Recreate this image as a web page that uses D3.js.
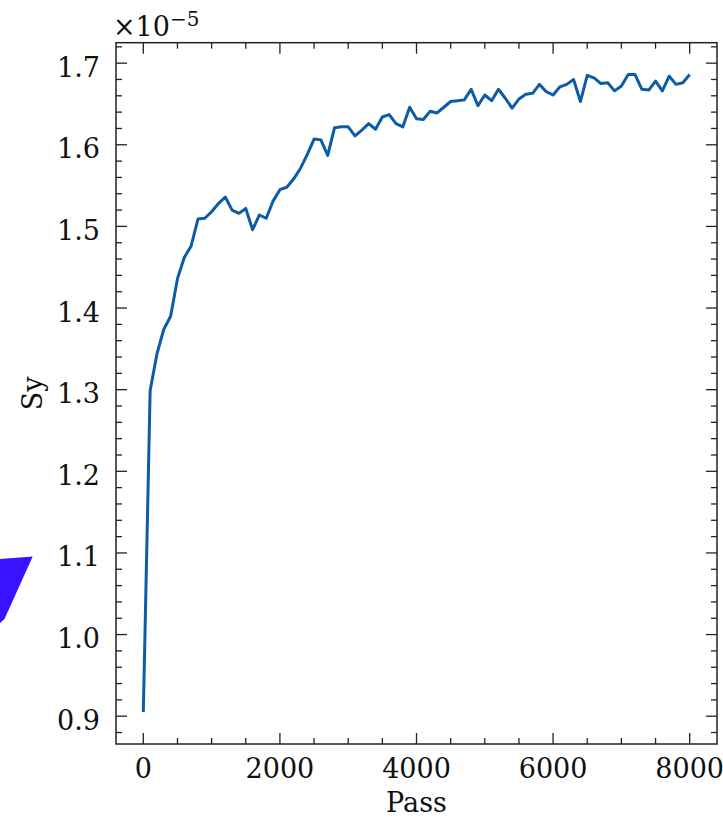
<!DOCTYPE html>
<html>
<head>
<meta charset="utf-8">
<script src="https://cdn.jsdelivr.net/npm/d3@7.9.0/dist/d3.min.js"></script>
<style>
  html, body { margin: 0; padding: 0; background: #fff; }
  svg { display: block; }
  text { font-family: "DejaVu Serif", serif; fill: #111; }
</style>
</head>
<body>
<div id="chart"></div>
<script>
// Pass number (x) and Sy in units of 1e-5 (y)
const passes = [
  0, 100, 200, 300, 400, 500, 600, 700, 800, 900,
  1000, 1100, 1200, 1300, 1400, 1500, 1600, 1700, 1800, 1900,
  2000, 2100, 2200, 2300, 2400, 2500, 2600, 2700, 2800, 2900,
  3000, 3100, 3200, 3300, 3400, 3500, 3600, 3700, 3800, 3900,
  4000, 4100, 4200, 4300, 4400, 4500, 4600, 4700, 4800, 4900,
  5000, 5100, 5200, 5300, 5400, 5500, 5600, 5700, 5800, 5900,
  6000, 6100, 6200, 6300, 6400, 6500, 6600, 6700, 6800, 6900,
  7000, 7100, 7200, 7300, 7400, 7500, 7600, 7700, 7800, 7900,
  8000
];
const syValues = [
  0.905, 1.299, 1.344, 1.374, 1.390, 1.436, 1.462, 1.476, 1.509, 1.510,
  1.518, 1.528, 1.536, 1.520, 1.516, 1.522, 1.496, 1.514, 1.510, 1.531,
  1.545, 1.548, 1.558, 1.571, 1.588, 1.607, 1.606, 1.587, 1.621, 1.622,
  1.622, 1.611, 1.618, 1.626, 1.619, 1.634, 1.637, 1.626, 1.622, 1.646,
  1.632, 1.631, 1.641, 1.639, 1.646, 1.653, 1.654, 1.655, 1.668, 1.648,
  1.661, 1.654, 1.668, 1.657, 1.645, 1.656, 1.662, 1.663, 1.674, 1.665,
  1.661, 1.671, 1.674, 1.680, 1.653, 1.685, 1.682, 1.675, 1.676, 1.666,
  1.672, 1.686, 1.686, 1.668, 1.667, 1.678, 1.666, 1.684, 1.674, 1.676,
  1.686
];
const xMajorTicks = [0, 2000, 4000, 6000, 8000];
const yMajorTicks = [0.9, 1.0, 1.1, 1.2, 1.3, 1.4, 1.5, 1.6, 1.7];
const xLabel = "Pass";
const yLabel = "Sy";

// stray blue shape at the left edge of the picture
const blueShape = [[0, 559], [32.7, 556.5], [4.5, 619], [0, 623]];

const W = 723, H = 824;
const margin = { top: 42.7, right: 6, bottom: 80, left: 116 };
const lineColor = "#0C5DA5";
const fontSize = 27;

const svg = d3.select("#chart").append("svg")
  .attr("width", W)
  .attr("height", H);

const data = passes.map((p, i) => ({ pass: p, sy: syValues[i] }));

// matplotlib style 5% padding
const xExt = d3.extent(data, d => d.pass);
const yExt = d3.extent(data, d => d.sy);
const xPad = (xExt[1] - xExt[0]) * 0.05;
const yPad = (yExt[1] - yExt[0]) * 0.05;

const x = d3.scaleLinear()
  .domain([xExt[0] - xPad, xExt[1] + xPad])
  .range([margin.left, W - margin.right]);

const y = d3.scaleLinear()
  .domain([yExt[0] - yPad, yExt[1] + yPad])
  .range([H - margin.bottom, margin.top]);

const x0 = x.range()[0], x1 = x.range()[1];
const y0 = y.range()[0], y1 = y.range()[1];

// minor ticks
const xMinor = d3.range(0, 8001, 500).filter(v => !xMajorTicks.includes(v));
const yMinor = d3.range(88, 173, 2).map(v => v / 100)
  .filter(v => v >= y.domain()[0] && v <= y.domain()[1])
  .filter(v => !yMajorTicks.some(t => Math.abs(t - v) < 1e-9));

const majorLen = 11, minorLen = 6;
const ticks = svg.append("g")
  .attr("stroke", "#222")
  .attr("stroke-width", 1.3);

// bottom + top ticks (inward)
[[xMajorTicks, majorLen], [xMinor, minorLen]].forEach(([vals, len]) => {
  ticks.selectAll(null).data(vals).join("line")
    .attr("x1", d => x(d)).attr("x2", d => x(d))
    .attr("y1", y0).attr("y2", y0 - len);
  ticks.selectAll(null).data(vals).join("line")
    .attr("x1", d => x(d)).attr("x2", d => x(d))
    .attr("y1", y1).attr("y2", y1 + len);
});
// left + right ticks (inward)
[[yMajorTicks, majorLen], [yMinor, minorLen]].forEach(([vals, len]) => {
  ticks.selectAll(null).data(vals).join("line")
    .attr("y1", d => y(d)).attr("y2", d => y(d))
    .attr("x1", x0).attr("x2", x0 + len);
  ticks.selectAll(null).data(vals).join("line")
    .attr("y1", d => y(d)).attr("y2", d => y(d))
    .attr("x1", x1).attr("x2", x1 - len);
});

// data line
const line = d3.line()
  .x(d => x(d.pass))
  .y(d => y(d.sy));

svg.append("path")
  .datum(data)
  .attr("fill", "none")
  .attr("stroke", lineColor)
  .attr("stroke-width", 3)
  .attr("stroke-linejoin", "round")
  .attr("d", line);

// frame
svg.append("rect")
  .attr("x", x0).attr("y", y1)
  .attr("width", x1 - x0).attr("height", y0 - y1)
  .attr("fill", "none")
  .attr("stroke", "#222")
  .attr("stroke-width", 1.5);

// tick labels
svg.append("g").selectAll("text")
  .data(xMajorTicks)
  .join("text")
  .attr("x", d => x(d))
  .attr("y", 778)
  .attr("text-anchor", "middle")
  .style("font-size", fontSize + "px")
  .text(d => d);

svg.append("g").selectAll("text")
  .data(yMajorTicks)
  .join("text")
  .attr("x", 100)
  .attr("y", d => y(d) + 13.5)
  .attr("text-anchor", "end")
  .style("font-size", fontSize + "px")
  .text(d => d3.format(".1f")(d));

// axis labels
svg.append("text")
  .attr("x", (x0 + x1) / 2)
  .attr("y", 812)
  .attr("text-anchor", "middle")
  .style("font-size", fontSize + "px")
  .text(xLabel);

svg.append("text")
  .attr("transform", `translate(42,${(y0 + y1) / 2}) rotate(-90)`)
  .attr("text-anchor", "middle")
  .style("font-size", fontSize + "px")
  .text(yLabel);

// offset text  ×10^-5
const off = svg.append("text")
  .attr("x", 113)
  .attr("y", 36)
  .style("font-size", fontSize + "px");
off.append("tspan").text("×10");
off.append("tspan")
  .attr("dy", -10)
  .style("font-size", "20px")
  .text("−5");

// blue shape
svg.append("path")
  .attr("d", d3.line()(blueShape) + "Z")
  .attr("fill", "#3a12ff");
</script>
</body>
</html>
